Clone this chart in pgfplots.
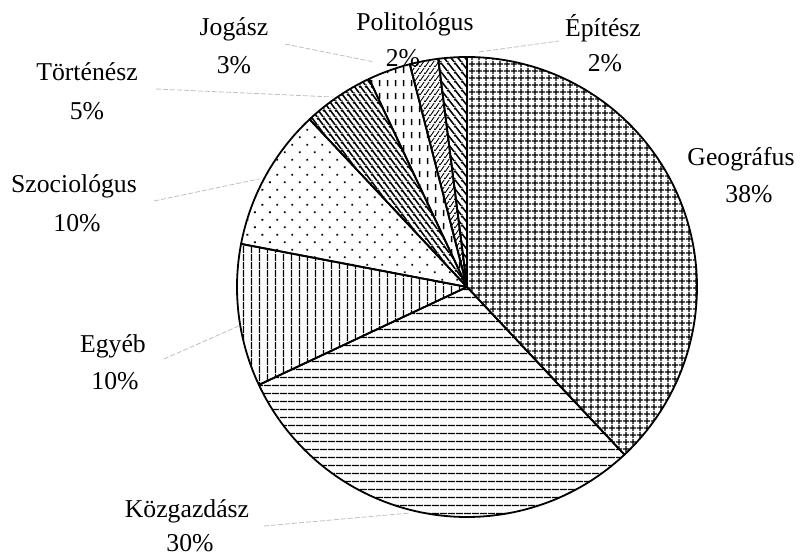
\documentclass[border=0pt]{standalone}
\usepackage{fontspec}
\setmainfont{Liberation Serif}
\usepackage{pgfplots}
\pgfplotsset{compat=1.18}
\usetikzlibrary{patterns,patterns.meta}

% grid
\pgfdeclarepatternformonly{pgrid}{\pgfpointorigin}{\pgfqpoint{7pt}{7pt}}{\pgfqpoint{7pt}{7pt}}{%
  \pgfsetlinewidth{1.4pt}%
  \pgfpathmoveto{\pgfqpoint{0pt}{3.5pt}}\pgfpathlineto{\pgfqpoint{7pt}{3.5pt}}%
  \pgfpathmoveto{\pgfqpoint{3.5pt}{0pt}}\pgfpathlineto{\pgfqpoint{3.5pt}{7pt}}\pgfusepath{stroke}}
% horizontal lines
\pgfdeclarepatternformonly{phor}{\pgfpointorigin}{\pgfqpoint{8pt}{8pt}}{\pgfqpoint{8pt}{8pt}}{%
  \pgfsetlinewidth{1.4pt}%
  \pgfpathmoveto{\pgfqpoint{0pt}{4pt}}\pgfpathlineto{\pgfqpoint{8pt}{4pt}}\pgfusepath{stroke}}
% vertical lines
\pgfdeclarepatternformonly{pver}{\pgfpointorigin}{\pgfqpoint{8pt}{8pt}}{\pgfqpoint{8pt}{8pt}}{%
  \pgfsetlinewidth{1.4pt}%
  \pgfpathmoveto{\pgfqpoint{4pt}{0pt}}\pgfpathlineto{\pgfqpoint{4pt}{8pt}}\pgfusepath{stroke}}
% dashed vertical lines
\pgfdeclarepatternformonly{vdashes}{\pgfpointorigin}{\pgfqpoint{8pt}{13pt}}{\pgfqpoint{8pt}{13pt}}{%
  \pgfsetlinewidth{1.5pt}%
  \pgfpathmoveto{\pgfqpoint{4pt}{3pt}}\pgfpathlineto{\pgfqpoint{4pt}{9.5pt}}\pgfusepath{stroke}}
% steep descending lines (thick, dense)
\pgfdeclarepatternformonly{pdescA}{\pgfpointorigin}{\pgfqpoint{6pt}{8pt}}{\pgfqpoint{6pt}{8pt}}{%
  \pgfsetlinewidth{1.8pt}%
  \pgfpathmoveto{\pgfqpoint{-6pt}{8pt}}\pgfpathlineto{\pgfqpoint{0pt}{0pt}}%
  \pgfpathmoveto{\pgfqpoint{0pt}{8pt}}\pgfpathlineto{\pgfqpoint{6pt}{0pt}}%
  \pgfpathmoveto{\pgfqpoint{6pt}{8pt}}\pgfpathlineto{\pgfqpoint{12pt}{0pt}}\pgfusepath{stroke}}
\pgfdeclarepatternformonly{pdescB}{\pgfpointorigin}{\pgfqpoint{7pt}{9pt}}{\pgfqpoint{7pt}{9pt}}{%
  \pgfsetlinewidth{1.7pt}%
  \pgfpathmoveto{\pgfqpoint{-7pt}{9pt}}\pgfpathlineto{\pgfqpoint{0pt}{0pt}}%
  \pgfpathmoveto{\pgfqpoint{0pt}{9pt}}\pgfpathlineto{\pgfqpoint{7pt}{0pt}}%
  \pgfpathmoveto{\pgfqpoint{7pt}{9pt}}\pgfpathlineto{\pgfqpoint{14pt}{0pt}}\pgfusepath{stroke}}
% steep ascending thin lines
\pgfdeclarepatternformonly{pasc}{\pgfpointorigin}{\pgfqpoint{5pt}{7pt}}{\pgfqpoint{5pt}{7pt}}{%
  \pgfsetlinewidth{1pt}%
  \pgfpathmoveto{\pgfqpoint{-5pt}{0pt}}\pgfpathlineto{\pgfqpoint{0pt}{7pt}}%
  \pgfpathmoveto{\pgfqpoint{0pt}{0pt}}\pgfpathlineto{\pgfqpoint{5pt}{7pt}}%
  \pgfpathmoveto{\pgfqpoint{5pt}{0pt}}\pgfpathlineto{\pgfqpoint{10pt}{7pt}}\pgfusepath{stroke}}

\tikzset{
  patA/.style={pattern=pgrid},
  patB/.style={pattern=phor},
  patC/.style={pattern=pver},
  patD/.style={pattern={Dots[angle=45,distance=10.6pt,radius=1.3pt]}},
  patE/.style={pattern=pdescA},
  patF/.style={pattern=vdashes},
  patG/.style={pattern=pasc},
  patH/.style={pattern=pdescB},
  lab/.style={anchor=base,font=\fontsize{25.7}{30}\selectfont},
  lead/.style={draw=gray!50,line width=0.8pt,dash pattern=on 5pt off 2pt}
}

\begin{document}
\begin{tikzpicture}
\begin{axis}[hide axis, scale only axis, width=804pt, height=557pt,
  xmin=0, xmax=804, ymin=0, ymax=557, clip=false, samples=150]
\path (axis cs:0,0) rectangle (axis cs:804,557);
% slices (percent / pattern), clockwise from the top
\xdef\start{90}
\foreach \p/\s in {38/patA,30/patB,10/patC,10/patD,5/patE,3/patF,2/patG,2/patH}{
  \pgfmathsetmacro\stop{\start-3.6*\p}
  \edef\cmd{\noexpand\addplot[no markers, draw=black, line width=1.8pt, line join=round, \s, domain=\stop:\start] ({467+230*cos(x)},{270+230*sin(x)}) -- (axis cs:467,270) -- cycle;}
  \cmd
  \xdef\start{\stop}
}
% leader lines
\draw[lead] (axis cs:285,513) -- (axis cs:374,495);
\draw[lead] (axis cs:156,468) -- (axis cs:333,460);
\draw[lead] (axis cs:479,505) -- (axis cs:559,516);
\draw[lead] (axis cs:154,356) -- (axis cs:259,378);
\draw[lead] (axis cs:164,198) -- (axis cs:241,232);
\draw[lead] (axis cs:264,31) -- (axis cs:410,44);
% labels
\node[lab] at (axis cs:234,521) {Jogász};
\node[lab] at (axis cs:234,483) {3\%};
\node[lab] at (axis cs:415,526) {Politológus};
\node[lab] at (axis cs:403,490) {2\%};
\node[lab] at (axis cs:603,520) {Építész};
\node[lab] at (axis cs:605,485) {2\%};
\node[lab] at (axis cs:87,476) {Történész};
\node[lab] at (axis cs:87,437) {5\%};
\node[lab] at (axis cs:741,391) {Geográfus};
\node[lab] at (axis cs:749,354) {38\%};
\node[lab] at (axis cs:74,364) {Szociológus};
\node[lab] at (axis cs:77,325) {10\%};
\node[lab] at (axis cs:113,204) {Egyéb};
\node[lab] at (axis cs:115,167) {10\%};
\node[lab] at (axis cs:187,39) {Közgazdász};
\node[lab] at (axis cs:190,5) {30\%};
\end{axis}
\end{tikzpicture}
\end{document}
